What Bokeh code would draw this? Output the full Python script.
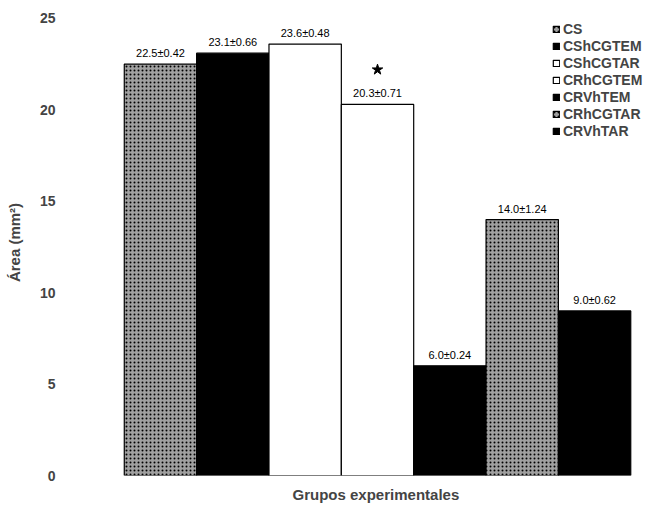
from bokeh.plotting import figure
from bokeh.models import ColumnDataSource, Range1d, FixedTicker, Legend, LegendItem, Title
from bokeh.core.properties import value
from bokeh.embed import file_html
from bokeh.resources import INLINE

groups = ["CS", "CShCGTEM", "CShCGTAR", "CRhCGTEM", "CRVhTEM", "CRhCGTAR", "CRVhTAR"]
means = [22.5, 23.1, 23.6, 20.3, 6.0, 14.0, 9.0]
sems = [0.42, 0.66, 0.48, 0.71, 0.24, 1.24, 0.62]
significant = [False, False, False, True, False, False, False]
y_ticks = [0, 5, 10, 15, 20, 25]

fills = ["#a0a0a0", "black", "white", "white", "black", "#a0a0a0", "black"]
hatches = ["dot", " ", " ", " ", " ", "dot", " "]

FONT = "Liberation Sans"

xs = list(range(len(groups)))
src = ColumnDataSource(dict(
    x=xs, top=means, group=groups, fill=fills, hatch=hatches,
    lab=[f"{m:.1f}±{s:.2f}" for m, s in zip(means, sems)],
))

p = figure(width=644, height=511, output_backend="svg", toolbar_location=None,
           x_range=Range1d(-1.34, 6.69), y_range=Range1d(0, 25.49),
           min_border_left=63, min_border_right=0, min_border_top=9, min_border_bottom=36)
p.outline_line_color = None
p.grid.visible = False
p.xaxis.visible = False

r = p.vbar(x="x", top="top", width=1.0, bottom=0, source=src,
           fill_color="fill", line_color="black", line_width=1.2,
           hatch_pattern="hatch", hatch_color="black", hatch_scale=4, hatch_weight=1.5)

p.text(x="x", y="top", text="lab", source=src, text_align="center", text_baseline="bottom",
       y_offset=-5, text_font=value(FONT), text_font_size="11px", text_color="black")

star_x = [x for x, s in zip(xs, significant) if s]
star_y = [m + 1.9 for m, s in zip(means, significant) if s]
p.scatter(x=star_x, y=star_y, marker="star", size=11, fill_color="black", line_color="black")

ya = p.yaxis[0]
ya.ticker = FixedTicker(ticks=y_ticks)
ya.axis_line_color = None
ya.major_tick_line_color = None
ya.minor_tick_line_color = None
ya.major_label_text_font = FONT
ya.major_label_text_font_style = "bold"
ya.major_label_text_font_size = "14px"
ya.major_label_standoff = 2
ya.axis_label = "Área (mm²)"
ya.axis_label_text_font = FONT
ya.axis_label_text_font_style = "bold"
ya.axis_label_text_font_size = "15px"
ya.axis_label_standoff = 14

items = [LegendItem(label=g, renderers=[r], index=i) for i, g in enumerate(groups)]
leg = Legend(items=items, location=(489, 336), border_line_color=None, background_fill_alpha=0,
             glyph_width=8, glyph_height=8, label_height=16, spacing=1, padding=2, margin=0,
             label_standoff=3, label_text_font=FONT, label_text_font_style="bold",
             label_text_font_size="14px")
p.add_layout(leg)

p.add_layout(Title(text="Grupos experimentales", align="left", offset=229, standoff=17,
                   vertical_align="bottom",
                   text_font=FONT, text_font_style="bold", text_font_size="15px"), "below")

open("out.html", "w").write(file_html(p, INLINE))
